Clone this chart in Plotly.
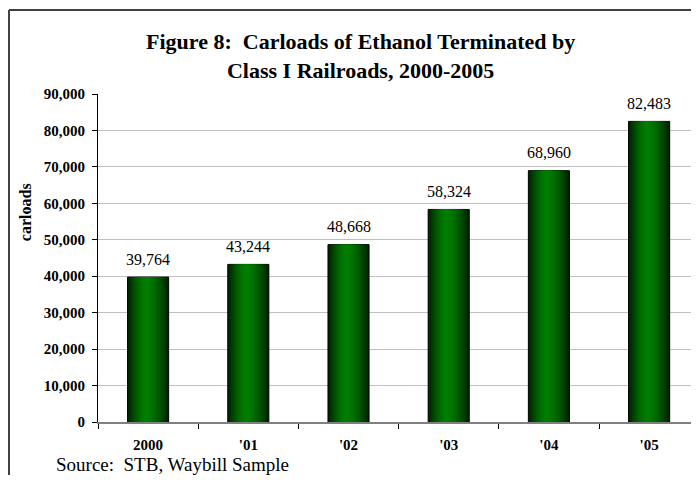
import plotly.graph_objects as go

years = ["2000", "'01", "'02", "'03", "'04", "'05"]
carloads = [39764, 43244, 48668, 58324, 68960, 82483]
y_ticks = [0, 10000, 20000, 30000, 40000, 50000, 60000, 70000, 80000, 90000]

SERIF = "Liberation Serif, Times New Roman, serif"

fig = go.Figure()

# fake the cylinder shading with bars of shrinking width laid on top of each other
full_w = 0.41
n_layers = 12
for i in range(n_layers):
	d = 1 - i / n_layers
	w = full_w * d
	g = int(128 - 92 * d ** 1.6)
	centre = -0.02 * (1 - d)
	fig.add_trace(go.Bar(
		x=years, y=carloads, width=w, offset=centre - w / 2,
		marker=dict(color=f'rgb(0,{g},0)',
					line=dict(color='black', width=1 if i == 0 else 0)),
		showlegend=False, hoverinfo='skip' if i else 'y',
	))

for i, v in enumerate(carloads):
	fig.add_annotation(x=i, y=v, text=f'{v:,}', showarrow=False, yanchor='middle', yshift=18,
					   font=dict(family=SERIF, size=16, color='black'))

fig.add_annotation(xref='paper', yref='paper', x=0.4435, y=1.116, xanchor='center', yanchor='middle',
				   text='Figure 8:  Carloads of Ethanol Terminated by<br>Class I Railroads, 2000-2005',
				   showarrow=False, font=dict(family=SERIF, size=22, color='black', weight='bold'))
fig.add_annotation(xref='paper', yref='paper', x=-0.123, y=0.64, textangle=-90, xanchor='center', yanchor='middle',
				   text='carloads', showarrow=False, font=dict(family=SERIF, size=16, color='black', weight='bold'))
fig.add_annotation(xref='paper', yref='paper', x=-0.0742, y=-0.13, xanchor='left', yanchor='middle',
				   text='Source:  STB, Waybill Sample', showarrow=False, font=dict(family=SERIF, size=19, color='black'))

# frame round the chart: only its left and top sides fall inside the picture
frame = dict(color='#404040', width=2)
fig.add_shape(type='line', xref='paper', yref='paper', x0=-0.1501, x1=-0.1501, y0=-0.1616, y1=1.256, line=frame)
fig.add_shape(type='line', xref='paper', yref='paper', x0=-0.1501, x1=1.0, y0=1.256, y1=1.256, line=frame)

fig.update_layout(
	width=683, height=467, margin=dict(l=90, r=0, t=86, b=53),
	barmode='overlay', plot_bgcolor='white', paper_bgcolor='white',
	xaxis=dict(type='category', categoryorder='array', categoryarray=years, range=[-0.5, 5.418],
			   tickson='boundaries', ticks='outside', ticklen=5, tickcolor='black', ticklabelstandoff=8,
			   showline=True, linecolor='#808080', linewidth=2, showgrid=False,
			   tickfont=dict(family=SERIF, size=15, color='black', weight='bold')),
	yaxis=dict(range=[0, 90000], tickvals=y_ticks, tickformat=',', ticks='outside', ticklen=5,
			   tickcolor='black', showline=True, linecolor='black', linewidth=1, ticklabelstandoff=4,
			   showgrid=True, gridcolor='#c0c0c0', zeroline=False,
			   tickfont=dict(family=SERIF, size=15, color='black', weight='bold')),
)

fig.write_html("out.html")
